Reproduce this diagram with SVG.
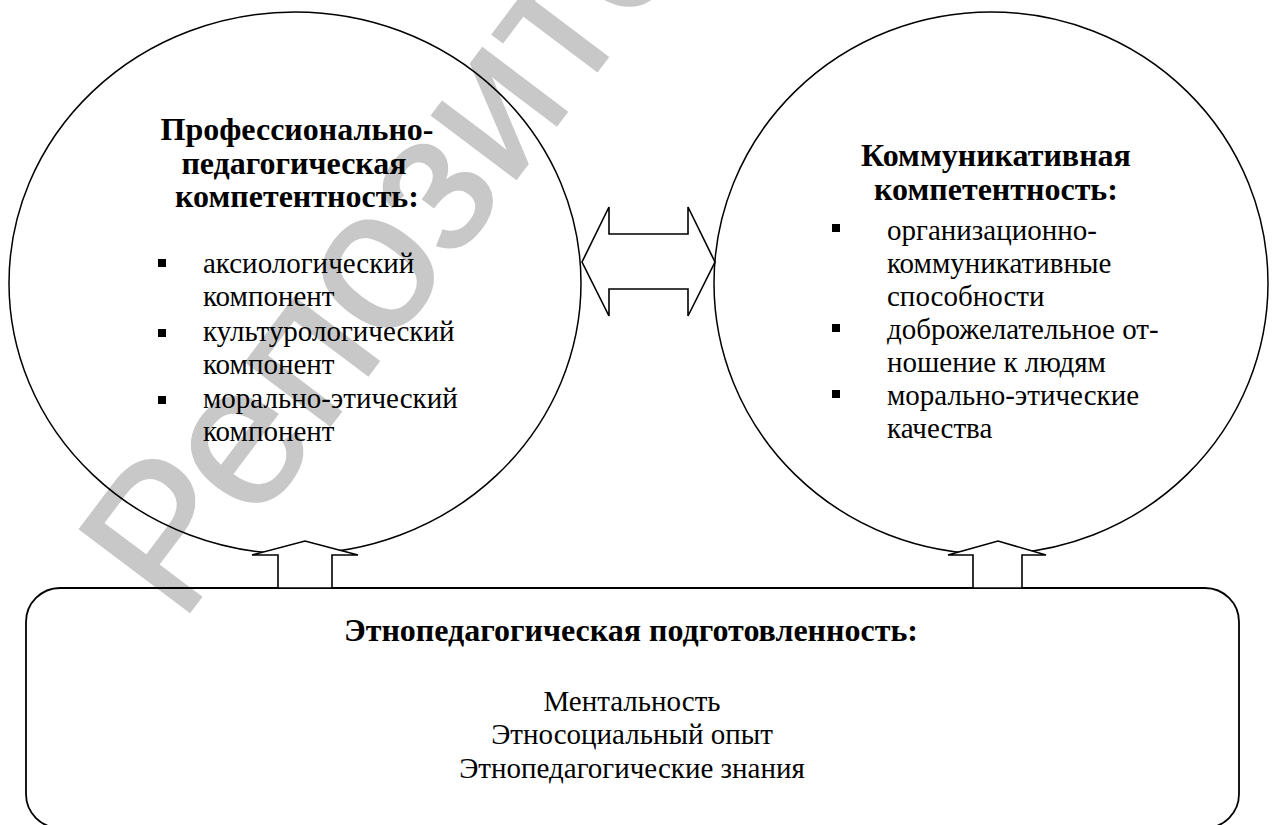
<svg xmlns="http://www.w3.org/2000/svg" width="1281" height="825" viewBox="0 0 1281 825">
<style>
.shape{fill:none;stroke:#000;stroke-width:1.5}
.arrow{fill:#fff;stroke:#000;stroke-width:1.6;stroke-linejoin:miter}
.t{font-family:"Liberation Serif","Times New Roman",serif;font-size:29px;fill:#000}
.b{font-weight:bold;font-size:32px}
.c{text-anchor:middle}
.wm{font-family:"Liberation Sans",Arial,sans-serif;font-size:200px;fill:#c8c8c8;stroke:#c8c8c8;stroke-width:2}
</style>
<rect x="0" y="0" width="1281" height="825" fill="#fff"/>
<text class="wm" transform="translate(180,625) rotate(-53)">Репозиторий</text>
<g id="node-prof">
<ellipse class="shape" cx="295" cy="283" rx="286" ry="271"/>
<text class="t b c" x="297" y="140">Профессионально-</text>
<text class="t b c" x="294" y="174">педагогическая</text>
<text class="t b c" x="297" y="207">компетентность:</text>
<rect x="158" y="259" width="8" height="8"/>
<rect x="158" y="329" width="8" height="8"/>
<rect x="158" y="396" width="8" height="8"/>
<text class="t" x="203" y="273">аксиологический</text>
<text class="t" x="203" y="306">компонент</text>
<text class="t" x="203" y="341">культурологический</text>
<text class="t" x="203" y="374">компонент</text>
<text class="t" x="203" y="408">морально-этический</text>
<text class="t" x="203" y="441">компонент</text>
</g>
<g id="node-comm">
<ellipse class="shape" cx="991" cy="283" rx="277" ry="271"/>
<text class="t b c" x="996" y="166">Коммуникативная</text>
<text class="t b c" x="996" y="200">компетентность:</text>
<rect x="832" y="224" width="8" height="8"/>
<rect x="832" y="324" width="8" height="8"/>
<rect x="832" y="390" width="8" height="8"/>
<text class="t" x="887" y="240">организационно-</text>
<text class="t" x="887" y="273">коммуникативные</text>
<text class="t" x="887" y="306">способности</text>
<text class="t" x="887" y="339">доброжелательное от-</text>
<text class="t" x="887" y="372">ношение к людям</text>
<text class="t" x="887" y="405">морально-этические</text>
<text class="t" x="887" y="438">качества</text>
</g>
<g id="node-ethno">
<rect class="shape" x="26" y="588" width="1213" height="240" rx="34" ry="34" style="stroke-width:1.8"/>
<text class="t b c" x="631" y="641">Этнопедагогическая подготовленность:</text>
<text class="t c" x="632" y="711">Ментальность</text>
<text class="t c" x="632" y="744">Этносоциальный опыт</text>
<text class="t c" x="632" y="778">Этнопедагогические знания</text>
</g>
<g id="connectors">
<polygon class="arrow" points="582,262 609,207 609,234 688,234 688,207 715,262 688,316 688,289 609,289 609,316"/>
<polygon class="arrow" points="278,588 278,555 252,555 305,541 358,555 332,555 332,588"/>
<polygon class="arrow" points="973,588 973,555 948,555 998,541 1046,555 1022,555 1022,588"/>
</g>
</svg>
